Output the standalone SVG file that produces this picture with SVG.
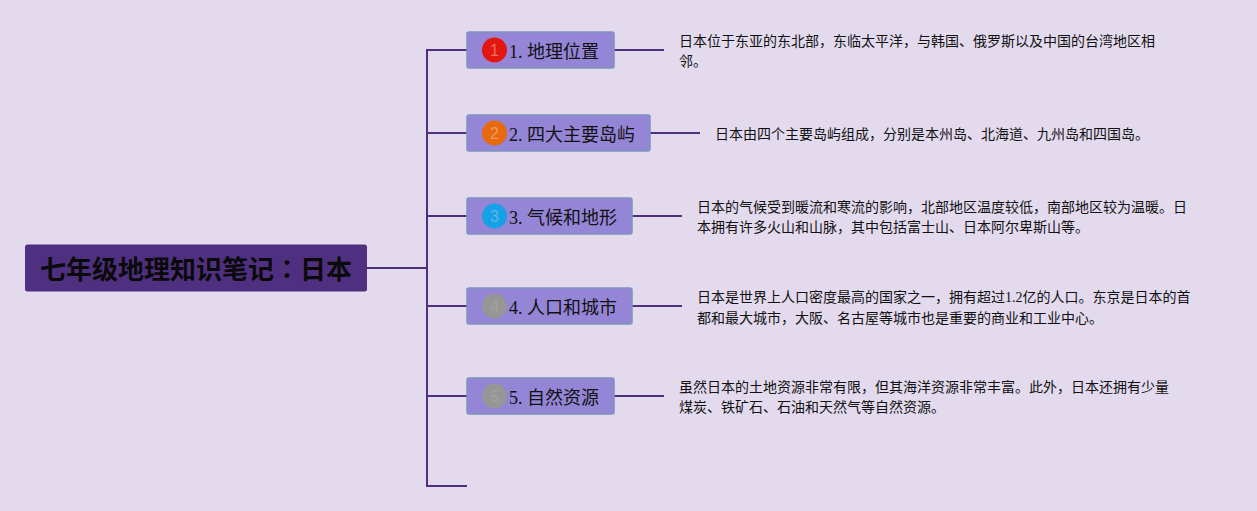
<svg xmlns="http://www.w3.org/2000/svg" width="1257" height="511" viewBox="0 0 1257 511">
<style>
text{font-family:"Liberation Serif","Noto Sans CJK SC",serif;fill:#111}
.conn{fill:none;stroke:#4f3080;stroke-width:2}
.box{fill:#9585d6;stroke:#7f92bd;stroke-width:1.500}
.title{font-size:18px}
.desc{font-size:14px}
.badge{font-family:"Liberation Sans",sans-serif;font-size:16px;text-anchor:middle}
</style>
<rect width="1257" height="511" fill="#e3daee"/>
<g id="connectors">
<path class="conn" d="M367 268H427M467 50H427V486H467M427 133H467M427 216H467M427 306H467M427 396H467"/>
<path class="conn" d="M614 50H664M650 133H700M632 216H682M632 306H682M614 396H664"/>
</g>
<g id="root">
<rect x="25" y="244.500" width="342" height="47" rx="2.500" fill="#4f3080"/>
<text x="40" y="279" font-size="26" font-weight="700" style="fill:#0a0a0a">七年级地理知识笔记<tspan font-family="'Noto Sans CJK TC',sans-serif">：</tspan>日本</text>
</g>
<g id="node1">
<rect class="box" x="467" y="32" width="147" height="36" rx="2"/>
<circle cx="494.500" cy="50" r="12.500" fill="#e3170f"/>
<text class="badge" x="494.500" y="55.500" style="fill:#ec7068">1</text>
<text class="title" x="509" y="58">1. 地理位置</text>
</g>
<g id="detail1">
<text class="desc" x="679" y="46">日本位于东亚的东北部，东临太平洋，与韩国、俄罗斯以及中国的台湾地区相</text>
<text class="desc" x="679" y="66">邻。</text>
</g>
<g id="node2">
<rect class="box" x="467" y="115" width="183" height="36" rx="2"/>
<circle cx="494.500" cy="133" r="12.500" fill="#e9690f"/>
<text class="badge" x="494.500" y="138.500" style="fill:#ee9a60">2</text>
<text class="title" x="509" y="141">2. 四大主要岛屿</text>
</g>
<g id="detail2">
<text class="desc" x="715" y="139">日本由四个主要岛屿组成，分别是本州岛、北海道、九州岛和四国岛。</text>
</g>
<g id="node3">
<rect class="box" x="467" y="198" width="165" height="36" rx="2"/>
<circle cx="494.500" cy="216" r="12.500" fill="#16a0e6"/>
<text class="badge" x="494.500" y="221.500" style="fill:#5cb8ec">3</text>
<text class="title" x="509" y="224">3. 气候和地形</text>
</g>
<g id="detail3">
<text class="desc" x="697" y="212">日本的气候受到暖流和寒流的影响，北部地区温度较低，南部地区较为温暖。日</text>
<text class="desc" x="697" y="232">本拥有许多火山和山脉，其中包括富士山、日本阿尔卑斯山等。</text>
</g>
<g id="node4">
<rect class="box" x="467" y="288" width="165" height="36" rx="2"/>
<circle cx="494.500" cy="306" r="12.500" fill="#969696"/>
<text class="badge" x="494.500" y="311.500" style="fill:#a2a2a2">4</text>
<text class="title" x="509" y="314">4. 人口和城市</text>
</g>
<g id="detail4">
<text class="desc" x="697" y="302">日本是世界上人口密度最高的国家之一，拥有超过1.2亿的人口。东京是日本的首</text>
<text class="desc" x="697" y="323">都和最大城市，大阪、名古屋等城市也是重要的商业和工业中心。</text>
</g>
<g id="node5">
<rect class="box" x="467" y="378" width="147" height="36" rx="2"/>
<circle cx="494.500" cy="396" r="12.500" fill="#969696"/>
<text class="badge" x="494.500" y="401.500" style="fill:#a2a2a2">5</text>
<text class="title" x="509" y="404">5. 自然资源</text>
</g>
<g id="detail5">
<text class="desc" x="679" y="392">虽然日本的土地资源非常有限，但其海洋资源非常丰富。此外，日本还拥有少量</text>
<text class="desc" x="679" y="412">煤炭、铁矿石、石油和天然气等自然资源。</text>
</g>
</svg>
